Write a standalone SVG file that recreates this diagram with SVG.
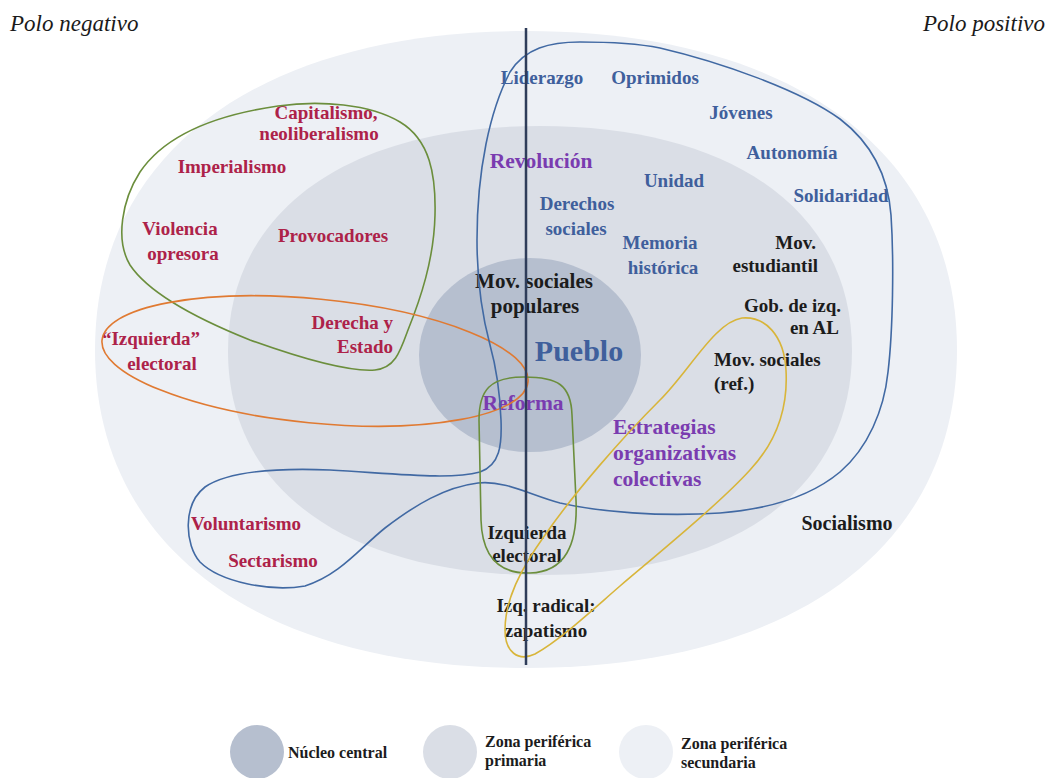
<svg xmlns="http://www.w3.org/2000/svg" width="1053" height="778" viewBox="0 0 1053 778">
<style>
text{font-family:"Liberation Serif","Times New Roman",serif;font-weight:bold;font-size:19px}
.pole{font-weight:normal;font-style:italic;font-size:23px;fill:#1a1a1a}
.r{fill:#ad2249}
.b{fill:#3f5f9c}
.p{fill:#7a3cb0;font-size:21.5px}
.k{fill:#1c1c1c}
.m{text-anchor:middle}
.e{text-anchor:end}
.big{font-size:21px}
.lg{font-size:16px;fill:#1c1c1c}
.z0{fill:#edf0f5}
.z1{fill:#dadee6}
.z2{fill:#b6bfcf}
.ol{fill:none;stroke-width:1.6}
</style>
<rect width="1053" height="778" fill="#ffffff"/>
<g id="zones">
<path class="z0" d="M95,350 C95,153 259,31 526,31 C793,31 957,153 957,350 C957,547 793,668 526,668 C259,668 95,547 95,350 Z"/>
<path class="z1" d="M228,351 C228,211 347,126 540,126 C733,126 852,211 852,351 C852,490 733,575 540,575 C347,575 228,490 228,351 Z"/>
<ellipse class="z2" cx="530" cy="355" rx="111" ry="97"/>
</g>
<g id="poles">
<text class="pole" x="10" y="31">Polo negativo</text>
<text class="pole e" x="1045" y="31">Polo positivo</text>
</g>
<g id="negative-labels">
<g id="n-capitalismo"><text class="r m" x="326" y="119">Capitalismo,</text><text class="r m" x="319" y="140">neoliberalismo</text></g>
<g id="n-imperialismo"><text class="r m" x="232" y="173">Imperialismo</text></g>
<g id="n-violencia"><text class="r m" x="180" y="235">Violencia</text><text class="r m" x="183" y="260">opresora</text></g>
<g id="n-provocadores"><text class="r m" x="333" y="242">Provocadores</text></g>
<g id="n-derecha"><text class="r e" x="393" y="329">Derecha y</text><text class="r e" x="393" y="353">Estado</text></g>
<g id="n-izquierda"><text class="r m" x="151" y="345">“Izquierda”</text><text class="r m" x="162" y="370">electoral</text></g>
<g id="n-voluntarismo"><text class="r m" x="246" y="530">Voluntarismo</text></g>
<g id="n-sectarismo"><text class="r m" x="273" y="567">Sectarismo</text></g>
</g>
<g id="positive-labels">
<g id="p-liderazgo"><text class="b m" x="542" y="84">Liderazgo</text></g>
<g id="p-oprimidos"><text class="b m" x="655" y="84">Oprimidos</text></g>
<g id="p-jovenes"><text class="b m" x="741" y="119">Jóvenes</text></g>
<g id="p-autonomia"><text class="b m" x="792" y="159">Autonomía</text></g>
<g id="p-unidad"><text class="b m" x="674" y="187">Unidad</text></g>
<g id="p-solidaridad"><text class="b m" x="841" y="202">Solidaridad</text></g>
<g id="p-derechos"><text class="b m" x="577" y="210">Derechos</text><text class="b m" x="576" y="235">sociales</text></g>
<g id="p-memoria"><text class="b m" x="660" y="249">Memoria</text><text class="b m" x="663" y="274">histórica</text></g>
<g id="p-pueblo"><text class="b m" x="579" y="361" style="font-size:30px">Pueblo</text></g>
<g id="p-revolucion"><text class="p m" x="541" y="168">Revolución</text></g>
<g id="p-reforma"><text class="p m" x="523" y="410">Reforma</text></g>
<g id="p-estrategias"><text class="p" x="613" y="434">Estrategias</text><text class="p" x="613" y="460">organizativas</text><text class="p" x="613" y="486">colectivas</text></g>
</g>
<g id="neutral-labels">
<g id="c-movpop"><text class="k m big" x="534" y="288">Mov. sociales</text><text class="k m big" x="535" y="313">populares</text></g>
<g id="c-estudiantil"><text class="k e" x="816" y="249">Mov.</text><text class="k e" x="818" y="272">estudiantil</text></g>
<g id="c-gob"><text class="k e" x="841" y="312">Gob. de izq.</text><text class="k e" x="839" y="334">en AL</text></g>
<g id="c-movref"><text class="k" x="714" y="366">Mov. sociales</text><text class="k" x="714" y="390">(ref.)</text></g>
<g id="c-socialismo"><text class="k m" x="847" y="530" style="font-size:20px">Socialismo</text></g>
<g id="c-izqelec"><text class="k m" x="527" y="539">Izquierda</text><text class="k m" x="527" y="562">electoral</text></g>
<g id="c-zapatismo"><text class="k m" x="546" y="612">Izq. radical:</text><text class="k m" x="546" y="637">zapatismo</text></g>
</g>
<g id="connectors">
<path class="ol" stroke="#6b8e3c" d="M278,106 C320,100 370,104 400,122 C430,140 436,175 435,215 C434,260 420,300 408,330 C400,352 395,368 375,370 C350,372 300,358 250,340 C200,320 150,295 130,265 C115,240 122,200 140,172 C165,135 215,115 278,106 Z"/>
<ellipse class="ol" stroke="#e07a32" stroke-width="2" cx="315" cy="361" rx="214" ry="62" transform="rotate(5.6 315 361)"/>
<path class="ol" stroke="#4169a3" d="M580,42 C620,42 640,44 660,48 C720,62 800,90 840,119 C870,142 888,175 891,215 C894,260 893,330 888,372 C884,410 868,448 840,472 C810,497 770,509 720,513 C660,517 600,512 560,503 C530,495 505,480 478,483 C445,487 415,505 385,528 C360,548 340,575 305,586 C270,592 220,582 200,562 C185,545 182,505 205,487 C230,470 280,468 330,470 C400,474 450,480 480,472 C500,465 502,445 501,420 C500,395 497,370 490,345 C482,315 477,280 477,240 C477,170 490,110 510,72 C525,48 550,42 580,42 Z"/>
<path class="ol" stroke="#6b8e3c" d="M524,377 C558,377 571,385 572,415 L576,500 C578,545 565,572 530,573 C495,574 482,552 481,520 L479,420 C479,390 490,377 524,377 Z"/>
<path class="ol" stroke="#d8b53a" d="M742,318 C765,316 784,335 786,370 C788,405 778,440 750,470 C720,503 660,552 620,586 C590,612 560,640 535,654 C518,662 505,652 505,630 C505,600 520,570 545,535 C575,492 620,440 660,400 C690,370 715,322 742,318 Z"/>
<line x1="526" y1="28" x2="526" y2="665" stroke="#2f3d5a" stroke-width="2.5"/>
</g>
<g id="legend">
<g id="lg-core"><circle class="z2" cx="257" cy="752" r="27"/><text class="lg" x="288" y="758">Núcleo central</text></g>
<g id="lg-primary"><circle class="z1" cx="450" cy="752" r="27"/><text class="lg" x="485" y="747">Zona periférica</text><text class="lg" x="485" y="766">primaria</text></g>
<g id="lg-secondary"><circle class="z0" cx="646" cy="752" r="27"/><text class="lg" x="681" y="749">Zona periférica</text><text class="lg" x="681" y="768">secundaria</text></g>
</g>
</svg>
